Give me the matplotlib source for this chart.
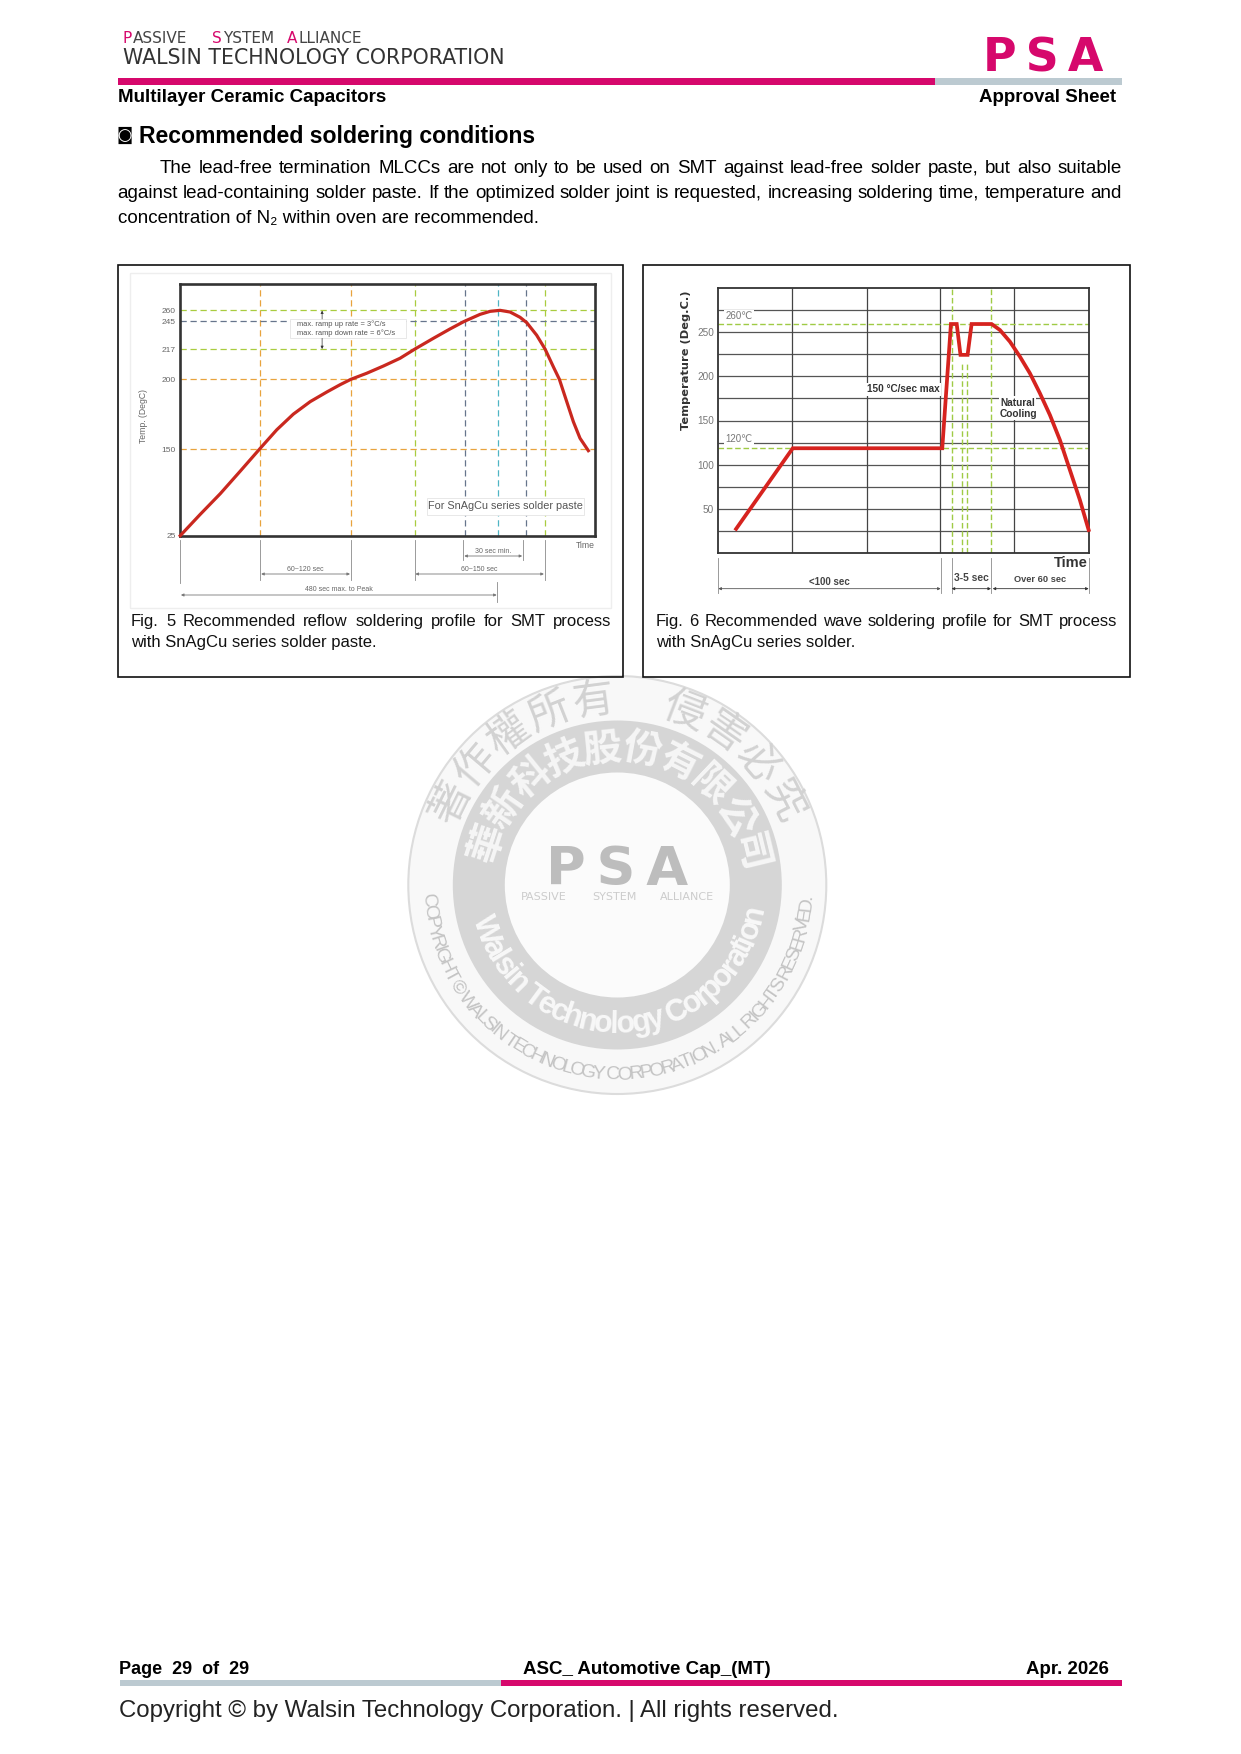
import numpy as np
import matplotlib
matplotlib.use("Agg")
import matplotlib.pyplot as plt
from matplotlib.patches import Rectangle, Circle
from matplotlib import font_manager as fm
from matplotlib.textpath import TextToPath

# ---- reflow profile (Fig. 5): time in sec, temperature in deg C
reflow_time = [0, 30, 60.5, 90.7, 121, 146, 171, 196.6, 222, 242, 258, 282, 307.5, 332.4, 355, 382.8, 408, 429.7,
               453.4, 468.5, 483.6, 498.8, 513.9, 524, 539, 551.7, 564.3, 573.4, 584.5, 594.5, 604.6, 617.2]
reflow_temp = [25, 55.5, 85.5, 118, 150.5, 163.8, 175, 184, 191, 196.2, 200, 203.4, 207.5, 211.8, 217, 227.8, 237.3,
               245, 254.5, 258.6, 260, 257.7, 250.5, 243.7, 231, 217, 207, 200, 184, 169.6, 157.7, 147.6]
reflow_yticks = [25, 150, 200, 217, 245, 260]
reflow_scale_temp = [25, 150, 200, 217, 245, 260, 296]
reflow_scale_pos = [0, 260, 469, 560, 643, 676, 755]
reflow_xmax = 627
reflow_vlines = [121, 258, 355, 430, 480, 523, 551]
reflow_vcolors = ['#e8a33d', '#e8a33d', '#a9cc3f', '#66758c', '#4fb4c4', '#66758c', '#a9cc3f']
reflow_hlines = [260, 245, 217, 200, 150]
reflow_hcolors = ['#a9cc3f', '#66758c', '#a9cc3f', '#e8a33d', '#e8a33d']

# ---- wave profile (Fig. 6)
wave_time = [8, 33.5, 100.8, 104.7, 107.3, 109, 112.2, 114, 123, 126.75, 131.25, 135.75, 140.25, 144.75, 149.25,
             153.75, 158.25, 162.75, 166.7]
wave_temp = [27, 118.5, 118.5, 259.5, 259.5, 224.5, 224.5, 259.5, 259.5, 252.7, 239.5, 222.5, 203.6, 180.9, 156.3,
             127.9, 93.8, 59.8, 25.7]
wave_yticks = [50, 100, 150, 200, 250]
wave_hgrid = [25, 50, 75, 100, 125, 150, 175, 200, 225, 250, 275]
wave_vgrid = [33.3, 66.7, 100, 133.3]
wave_green_full = [105, 122.7]
wave_green_part = [109.5, 112]
wave_green_h = [260, 118.5]

plt.rcParams['font.family'] = ['Liberation Sans', 'DejaVu Sans']
W, H = 1241, 1754
fig = plt.figure(figsize=(W / 100, H / 100), dpi=100, facecolor='white')
PINK, RULEGREY = '#d6086c', '#bccad1'
PX = 100 / 72


def page_axes(z):
    a = fig.add_axes([0, 0, 1, 1], zorder=z, facecolor='none')
    a.set_xlim(0, W)
    a.set_ylim(H, 0)
    a.axis('off')
    return a


bg = page_axes(0)
fg = page_axes(10)
rend = fig.canvas.get_renderer()


def width_of(s, size, **kw):
    t = bg.text(0, 0, s, fontsize=size, **kw)
    w = t.get_window_extent(rend).width
    t.remove()
    return w


def fit(a, x0, x1, baseline, s, **kw):
    size = 20 * (x1 - x0) / width_of(s, 20, **kw)
    a.text(x0, baseline, s, fontsize=size, ha='left', va='baseline', **kw)
    return size


def justified(a, x0, x1, baseline, s, size, **kw):
    words = s.split(' ')
    ws = [width_of(w, size, **kw) for w in words]
    gap = (x1 - x0 - sum(ws)) / (len(words) - 1)
    x = x0
    for w, wd in zip(words, ws):
        a.text(x, baseline, w, fontsize=size, ha='left', va='baseline', **kw)
        x += wd + gap


# ---- header
for word_x, runs in [(123, [('P', PINK), ('ASSIVE', '#444444')]), (212, [('S', PINK), ('YSTEM', '#444444')]),
                     (287, [('A', PINK), ('LLIANCE', '#444444')])]:
    x = word_x
    for run, col in runs:
        bg.text(x, 43, run, fontsize=11, family='DejaVu Sans', color=col, ha='left', va='baseline')
        x += width_of(run, 11, family='DejaVu Sans') + 1
fit(bg, 123, 505.5, 64, 'WALSIN TECHNOLOGY CORPORATION', family='DejaVu Sans', color='#333333')
bg.text(1043, 71, 'P\u2009S\u2009A', fontsize=33, family='DejaVu Sans', weight='bold', color=PINK, ha='center', va='baseline')
bg.add_patch(Rectangle((117.5, 77.5), 817.5, 7.5, color=PINK, lw=0))
bg.add_patch(Rectangle((935, 77.5), 187, 7.5, color=RULEGREY, lw=0))
fit(bg, 117.5, 386, 102, 'Multilayer Ceramic Capacitors', weight='bold', color='black')
fit(bg, 979, 1116, 102, 'Approval Sheet', weight='bold', color='black')
bg.text(117, 135.5, '◙', fontsize=12, family='DejaVu Sans', color='black', ha='left', va='center')
fit(bg, 138.6, 535, 142.5, 'Recommended soldering conditions', weight='bold', color='black')

line3 = 'concentration of N₂ within oven are recommended.'
body_size = 20 * (538 - 117.5) / width_of(line3, 20)
justified(bg, 160, 1122, 172.7,
          'The lead-free termination MLCCs are not only to be used on SMT against lead-free solder paste, but also suitable',
          body_size, color='black')
justified(bg, 117.5, 1122, 197.7,
          'against lead-containing solder paste. If the optimized solder joint is requested, increasing soldering time, temperature and',
          body_size, color='black')
bg.text(117.5, 222.7, line3, fontsize=body_size, color='black', ha='left', va='baseline')

# ---- frames
for (x0, y0, x1, y1) in [(118, 265, 623.4, 677), (642.7, 265, 1130, 677)]:
    fg.add_patch(Rectangle((x0, y0), x1 - x0, y1 - y0, fill=False, ec='#111111', lw=1.2))
bg.add_patch(Rectangle((130.3, 272.7), 480.4, 335.3, fc='white', ec='#eeeeee', lw=1))

# ---- captions
cap_size = 20 * (375.5 - 131) / width_of('with SnAgCu series solder paste.', 20)
justified(fg, 131, 611, 626, 'Fig. 5 Recommended reflow soldering profile for SMT process', cap_size, color='#111111')
fg.text(131, 647, 'with SnAgCu series solder paste.', fontsize=cap_size, color='#111111', ha='left', va='baseline')
justified(fg, 656, 1117.5, 626, 'Fig. 6 Recommended wave soldering profile for SMT process', cap_size, color='#111111')
fg.text(656, 647, 'with SnAgCu series solder.', fontsize=cap_size, color='#111111', ha='left', va='baseline')

# ---- watermark
cx, cy = 617.3, 885
bg.add_patch(Circle((cx, cy), 209, fc='#f8f8f8', ec='#dcdcdc', lw=1.5))
bg.add_patch(Circle((cx, cy), 164.5, fc='#d6d6d6', ec='none'))
bg.add_patch(Circle((cx, cy), 112.5, fc='#fbfbfb', ec='none'))


def polar(r, th):
    return cx + r * np.cos(np.radians(th)), cy - r * np.sin(np.radians(th))


def arc_chars(chars, angles, r, size, bottom=False, **kw):
    for ch, th in zip(chars, angles):
        px, py = polar(r, th)
        bg.text(px, py, ch, fontsize=size, rotation=(th - 270 if bottom else th - 90), rotation_mode='anchor',
                ha='center', va='center', **kw)


def arc_bottom(s, a0, a1, r, size, **kw):
    prop = fm.FontProperties(**{k: v for k, v in kw.items() if k in ('family', 'weight')})
    t2p = TextToPath()
    ws = np.array([t2p.get_text_width_height_descent(c, prop, False)[0] for c in s], float)
    cum = np.cumsum(ws) - ws / 2
    frac = cum / ws.sum()
    angs = a0 + (a1 - a0) * frac
    arc_chars(s, angs, r, size, bottom=True, **kw)


CJK = ['Noto Sans CJK TC', 'DejaVu Sans']
arc_chars('著作權所有', np.linspace(153.8, 97.5, 5), 185, 30, family=CJK, color='#d2d2d2')
arc_chars('侵害必究', np.linspace(69, 27, 4), 185, 30, family=CJK, color='#d2d2d2')
arc_chars('華新科技股份有限公司', np.linspace(162, 13.6, 10), 137, 28, family=CJK, weight='bold', color='#f6f6f6')
try:
    fm.findfont('Liberation Sans Narrow', fallback_to_default=False)
    narrow = 'Liberation Sans Narrow'
except Exception:
    narrow = 'Liberation Sans'
arc_bottom('Walsin Technology Corporation', 194, 351, 140, 22, family=narrow, weight='bold', color='#f8f8f8')
arc_bottom('COPYRIGHT © WALSIN TECHNOLOGY CORPORATION. ALL RIGHTS RESERVED.', 183, 357, 190, 14,
           family=narrow, color='#c4c4c4')
bg.text(616.7, 885, 'P\u2009S\u2009A', fontsize=39, family='DejaVu Sans', weight='bold', color='#bdbdbd', ha='center', va='baseline')
for word, x0, x1 in [('PASSIVE', 510.7, 576.7), ('SYSTEM', 586, 642.7), ('ALLIANCE', 650.7, 723)]:
    bg.text((x0 + x1) / 2, 897, word, fontsize=8, family='DejaVu Sans', color='#cccccc', ha='center', va='center')

# ---- footer
fit(bg, 119, 249.4, 1674, 'Page  29  of  29', weight='bold', color='black')
fit(bg, 523, 771, 1674, 'ASC_ Automotive Cap_(MT)', weight='bold', color='black')
fit(bg, 1026, 1109, 1674, 'Apr. 2026', weight='bold', color='black')
bg.add_patch(Rectangle((120, 1680), 380.6, 6, color=RULEGREY, lw=0))
bg.add_patch(Rectangle((500.6, 1680), 621.4, 6, color=PINK, lw=0))
fit(bg, 119, 838, 1716.5, 'Copyright © by Walsin Technology Corporation. | All rights reserved.', color='#222222')


# ---- chart axes helpers
def axes_px(x0, y0, x1, y1):
    return fig.add_axes([x0 / W, 1 - y1 / H, (x1 - x0) / W, (y1 - y0) / H], zorder=5, facecolor='white')


def z1(x, y):
    return 100 + x / 2.904, 250 + y / 3


def z2(x, y):
    return 630 + x / 3, 250 + y / 3


GR = '#666666'


def vline(z, x, y0, y1, c='#8a8a8a', lw=0.6):
    a, b = z(x, y0), z(x, y1)
    fg.plot([a[0], b[0]], [a[1], b[1]], color=c, lw=lw)


def arrow(z, x0, x1, y, c='#777777', lw=0.6, ms=4):
    fg.annotate('', xy=z(x1, y), xytext=z(x0, y),
                arrowprops=dict(arrowstyle='<|-|>', color=c, lw=lw, mutation_scale=ms, shrinkA=0, shrinkB=0))


def label(z, x, y, s, size, **kw):
    kw.setdefault('ha', 'center')
    kw.setdefault('va', 'center')
    fg.text(*z(x, y), s, fontsize=size, **kw)


# ---- Fig. 5
ax1 = axes_px(*z1(233, 102), *z1(1437, 857))
fwd = lambda v: np.interp(v, reflow_scale_temp, reflow_scale_pos)
inv = lambda v: np.interp(v, reflow_scale_pos, reflow_scale_temp)
ax1.set_yscale('function', functions=(fwd, inv))
ax1.set_xlim(0, reflow_xmax)
ax1.set_ylim(25, 296)
for v, c in zip(reflow_vlines, reflow_vcolors):
    ax1.axvline(v, color=c, lw=0.9, ls=(0, (5, 3)))
for v, c in zip(reflow_hlines, reflow_hcolors):
    ax1.axhline(v, color=c, lw=0.9, ls=(0, (5, 3)))
ax1.plot(reflow_time, reflow_temp, color='#c9281f', lw=2.3, solid_joinstyle='round', clip_on=False, zorder=5)
ax1.set_xticks([])
ax1.set_yticks(reflow_yticks)
ax1.set_yticklabels([str(v) for v in reflow_yticks], fontsize=6, color=GR)
ax1.yaxis.set_minor_locator(matplotlib.ticker.NullLocator())
ax1.tick_params(axis='y', length=0, pad=3)
for s in ax1.spines.values():
    s.set_linewidth(1.9)
    s.set_color('#333333')

label(z1, 125, 497, 'Temp. (DegC)', 6.2, rotation=90, color=GR)
label(z1, 1410, 887, 'Time', 6.2, color=GR)
for x, y0, y1 in [(233, 870, 1000), (466, 870, 990), (728, 870, 990), (914, 870, 990), (1055, 870, 930),
                  (1228, 870, 930), (1291, 870, 990), (1154, 995, 1055)]:
    vline(z1, x, y0, y1)
arrow(z1, 1058, 1226, 918)
arrow(z1, 468, 726, 972)
arrow(z1, 916, 1289, 972)
arrow(z1, 235, 1152, 1035)
label(z1, 1142, 904, '30 sec min.', 5, color=GR)
label(z1, 597, 958, '60~120 sec', 5, color=GR)
label(z1, 1102, 958, '60~150 sec', 5, color=GR)
label(z1, 694, 1018, '480 sec max. to Peak', 5, color=GR)
a, b = z1(553, 207), z1(888, 265)
fg.add_patch(Rectangle(a, b[0] - a[0], b[1] - a[1], fc='white', ec='#e4e4e4', lw=0.6))
label(z1, 571, 223, 'max. ramp up rate = 3°C/s', 5.4, color='#555555', ha='left')
label(z1, 571, 248, 'max. ramp down rate = 6°C/s', 5.4, color='#555555', ha='left')
fg.annotate('', xy=z1(645, 182), xytext=z1(645, 207), arrowprops=dict(arrowstyle='-|>', color='#333333', lw=0.5, mutation_scale=4, shrinkA=0, shrinkB=0))
fg.annotate('', xy=z1(645, 297), xytext=z1(645, 265), arrowprops=dict(arrowstyle='-|>', color='#333333', lw=0.5, mutation_scale=4, shrinkA=0, shrinkB=0))
a, b = z1(950, 745), z1(1405, 795)
fg.add_patch(Rectangle(a, b[0] - a[0], b[1] - a[1], fc='white', ec='#e4e4e4', lw=0.6))
label(z1, 1178, 769, 'For SnAgCu series solder paste', 7.8, color='#555555')

# ---- Fig. 6
ax2 = axes_px(*z2(265, 115), *z2(1376, 908))
ax2.set_xlim(0, 166.7)
ax2.set_ylim(0, 300)
ax2.hlines(wave_hgrid, 0, 166.7, color='#555555', lw=0.9)
ax2.vlines(wave_vgrid, 0, 300, color='#444444', lw=0.9)
ax2.vlines(wave_green_full, 0, 300, color='#9fcb45', lw=1.0, ls=(0, (4, 2)))
ax2.vlines(wave_green_part, 0, 216, color='#9fcb45', lw=1.0, ls=(0, (4, 2)))
ax2.hlines(wave_green_h, 0, 166.7, color='#9fcb45', lw=1.0, ls=(0, (4, 2)))
ax2.plot(wave_time, wave_temp, color='#d6231f', lw=2.7, solid_joinstyle='miter', clip_on=False, zorder=5)
ax2.set_xticks([])
ax2.set_yticks(wave_yticks)
ax2.set_yticklabels([str(v) for v in wave_yticks], fontsize=7.2, color='#777777')
ax2.tick_params(axis='y', length=0, pad=3)
for s in ax2.spines.values():
    s.set_linewidth(1.3)
    s.set_color('#333333')

label(z2, 168, 330, 'Temperature (Deg.C.)', 8.2, rotation=90, family='DejaVu Sans', weight='bold', color='#333333')
wbg = dict(fc='white', ec='none', pad=1)
label(z2, 328, 198, '260℃', 7, color='#777777', bbox=wbg)
label(z2, 328, 568, '120℃', 7, color='#777777', bbox=wbg)
label(z2, 820, 418, '150 °C/sec max', 7.2, weight='bold', color='#333333', bbox=wbg)
label(z2, 1110, 458, 'Natural', 7.3, weight='bold', color='#333333', ha='left', bbox=wbg)
label(z2, 1110, 492, 'Cooling', 7.3, weight='bold', color='#333333', ha='left', bbox=wbg)
label(z2, 1372, 940, 'Time', 10.5, weight='bold', color='#333333', ha='right')
for x in (265, 932, 965, 1083, 1378):
    vline(z2, x, 925, 1030)
arrow(z2, 265, 932, 1016, c='#555555')
arrow(z2, 965, 1083, 1016, c='#333333')
arrow(z2, 1088, 1376, 1016, c='#333333')
label(z2, 598, 996, '<100 sec', 7, weight='bold', color='#444444')
label(z2, 1025, 985, '3-5 sec', 7.4, weight='bold', color='#444444')
label(z2, 1230, 988, 'Over 60 sec', 6.7, weight='bold', color='#444444')

fig.savefig('out.png', dpi=100)
